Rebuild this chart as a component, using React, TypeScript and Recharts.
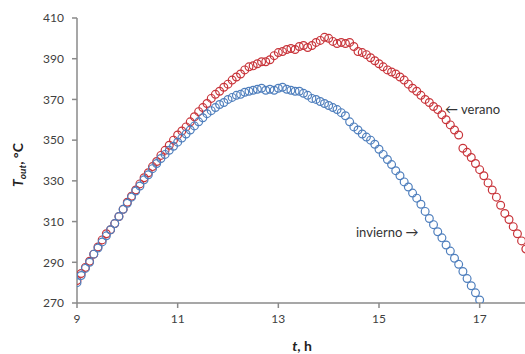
import React from "react";
import { Scatter, ScatterChart, XAxis, YAxis } from "recharts";

// horas, cada 5 minutos de 9:00 a 18:00
const TIMES = [
  9.0, 9.083, 9.167, 9.25, 9.333, 9.417, 9.5, 9.583, 9.667, 9.75, 9.833, 9.917,
  10.0, 10.083, 10.167, 10.25, 10.333, 10.417, 10.5, 10.583, 10.667, 10.75, 10.833, 10.917,
  11.0, 11.083, 11.167, 11.25, 11.333, 11.417, 11.5, 11.583, 11.667, 11.75, 11.833, 11.917,
  12.0, 12.083, 12.167, 12.25, 12.333, 12.417, 12.5, 12.583, 12.667, 12.75, 12.833, 12.917,
  13.0, 13.083, 13.167, 13.25, 13.333, 13.417, 13.5, 13.583, 13.667, 13.75, 13.833, 13.917,
  14.0, 14.083, 14.167, 14.25, 14.333, 14.417, 14.5, 14.583, 14.667, 14.75, 14.833, 14.917,
  15.0, 15.083, 15.167, 15.25, 15.333, 15.417, 15.5, 15.583, 15.667, 15.75, 15.833, 15.917,
  16.0, 16.083, 16.167, 16.25, 16.333, 16.417, 16.5, 16.583, 16.667, 16.75, 16.833, 16.917,
  17.0, 17.083, 17.167, 17.25, 17.333, 17.417, 17.5, 17.583, 17.667, 17.75, 17.833, 17.917,
  18.0,
];

const VERANO = [
  281, 284.5, 287.5, 290.5, 294, 297.5, 301, 304, 306, 309, 312.5, 316,
  319.5, 322.5, 325.5, 328.5, 331.5, 334, 337, 339.5, 342.5, 345, 347.5, 350,
  352.5, 354.5, 356.5, 359, 361.5, 364, 366, 368, 370.5, 372.5, 374, 376,
  377.5, 379.5, 381, 382.5, 384.5, 386, 386.5, 387.5, 388.5, 388.5, 389.5, 391.5,
  393, 393.5, 394.5, 395, 394.5, 396, 396.5, 395.5, 396.5, 398, 399, 400.5,
  400, 398.5, 397.5, 398, 397.5, 398, 396, 393.5, 393, 392, 390.5, 389,
  387.5, 386, 384.5, 383.5, 382.5, 381, 379.5, 377.5, 375.5, 374, 372, 370,
  368.5, 366.5, 365, 362.5, 360, 357.5, 355, 352.5, 346, 344, 341.5, 338.5,
  335.5, 332.5, 329, 325.5, 322, 318, 314, 311, 307.5, 304, 300.5, 296.5,
  292.5,
];

const INVIERNO = [
  280, 283.5, 287, 290, 294, 297, 300, 303, 306, 309, 312.5, 316,
  319, 322, 325, 327.5, 330.5, 333, 336, 338.5, 341, 343, 345, 347,
  349, 351, 353, 355, 357, 359, 361, 363, 364.5, 366, 367.5, 368.5,
  370, 371, 372, 372.5, 373.5, 374, 374.5, 375, 375.5, 374.5, 375, 374.5,
  375.5, 376, 375, 374.5, 374, 374, 373, 372, 370.5, 370, 369, 368,
  367, 366, 365, 363.5, 362, 359, 356.5, 355, 353, 351.5, 350, 348,
  345.5, 343, 340.5, 338, 335, 332.5, 329.5, 327, 324, 321.5, 318.5, 315,
  311.5, 308.5, 305, 302, 298.5, 295.5, 292, 289, 285.5, 282, 278.5, 275,
  271.5,
];

const X_TICKS = [9, 11, 13, 15, 17];
const Y_TICKS = [270, 290, 310, 330, 350, 370, 390, 410];

const RED = "#c8343a";
const BLUE = "#4f7fbd";

const veranoData = VERANO.map((v, i) => ({ t: TIMES[i], v }));
const inviernoData = INVIERNO.map((v, i) => ({ t: TIMES[i], v }));

const ring = (color: string) => (props: any) =>
  <circle cx={props.cx} cy={props.cy} r={3.9} fill="none" stroke={color} strokeWidth={1.2} />;

const tickStyle = { fontFamily: "Lato", fontSize: 12, fill: "#404040" };

export default function App() {
  return (
    <div style={{ position: "absolute", left: 0, top: 0, width: 525, height: 354, overflow: "hidden", background: "#fff" }}>
      <ScatterChart width={540} height={354} margin={{ top: 18, right: 10, bottom: 21, left: 0 }}>
        <XAxis
          type="number"
          dataKey="t"
          domain={[9, 18]}
          ticks={X_TICKS}
          allowDataOverflow
          height={30}
          tickSize={5}
          tickMargin={6}
          tick={tickStyle}
          stroke="#8a8a8a"
          strokeWidth={1.5}
          label={{
            content: () => (
              <text x={302} y={351} textAnchor="middle" fontFamily="Lato" fontSize={14} fontWeight="bold" fill="#222">
                <tspan fontStyle="italic">t</tspan>, h
              </text>
            ),
          }}
        />
        <YAxis
          type="number"
          dataKey="v"
          domain={[270, 410]}
          ticks={Y_TICKS}
          allowDataOverflow
          width={77}
          tickSize={5}
          tickMargin={8}
          tick={tickStyle}
          stroke="#8a8a8a"
          strokeWidth={1.5}
          label={{
            content: () => (
              <text transform="translate(23,165) rotate(-90)" textAnchor="middle" fontFamily="Lato" fontSize={14} fontWeight="bold" fill="#222">
                <tspan fontStyle="italic">T</tspan>
                <tspan fontStyle="italic" fontSize={10} dy={3}>out</tspan>
                <tspan dy={-3}>, °C</tspan>
              </text>
            ),
          }}
        />
        <Scatter data={veranoData} shape={ring(RED)} isAnimationActive={false} />
        <Scatter data={inviernoData} shape={ring(BLUE)} isAnimationActive={false} />
      </ScatterChart>
      <div style={{ position: "absolute", left: 445, top: 101, fontFamily: "Lato", fontSize: 13, color: "#333", whiteSpace: "nowrap" }}>
        ← verano
      </div>
      <div style={{ position: "absolute", left: 356, top: 224, fontFamily: "Lato", fontSize: 13, color: "#333", whiteSpace: "nowrap" }}>
        invierno →
      </div>
    </div>
  );
}
